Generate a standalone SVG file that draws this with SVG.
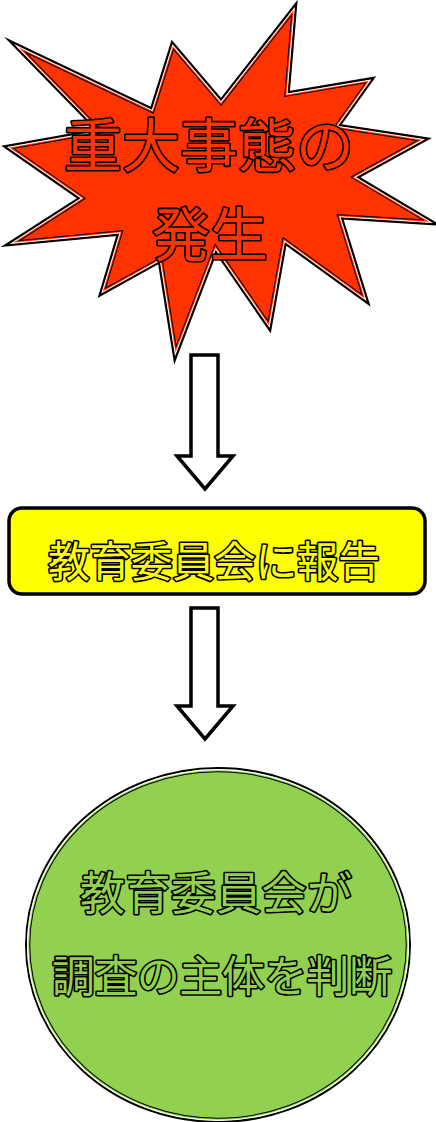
<svg xmlns="http://www.w3.org/2000/svg" width="436" height="1122" viewBox="0 0 436 1122">
<style>
.t{font-family:"Noto Sans CJK JP","Noto Sans CJK SC",sans-serif;stroke:#000;stroke-width:3.2;stroke-linejoin:round;paint-order:stroke fill}
.arrow{fill:#fff;stroke:#000;stroke-width:3.5;stroke-linejoin:miter}
</style>
<defs>
<polygon id="starP" points="221,101.3 294.8,7 287.5,93.5 371.2,79.4 338,125.9 425,139.2 355.9,177.2 433,223 340.6,217.3 366.5,301 284.8,241.9 269.5,327.7 215.7,249.7 175.1,356 159.9,260.9 101.4,293.3 119.3,233.5 9.7,244 80.8,198.3 7,147 98.7,130.8 14.3,44.3 151.9,109.7 172.5,44.3"/>
<clipPath id="starClip"><use href="#starP"/></clipPath>
<ellipse id="ellP" cx="218" cy="945" rx="191" ry="176"/>
<clipPath id="ellClip"><use href="#ellP"/></clipPath>
</defs>
<g id="explosion">
<use href="#starP" fill="#FF3300" stroke="#000" stroke-width="4.5" stroke-linejoin="miter" stroke-miterlimit="20"/>
<g clip-path="url(#starClip)" fill="none" stroke-linejoin="miter" stroke-miterlimit="20">
<use href="#starP" stroke="#000" stroke-width="6"/>
<use href="#starP" stroke="#FF3300" stroke-width="4"/>
<use href="#starP" stroke="#fff" stroke-width="2"/>
</g>
<text class="t" x="209" y="167" font-size="58" text-anchor="middle" fill="#FF3300">重大事態の</text>
<text class="t" x="210" y="256" font-size="58" text-anchor="middle" fill="#FF3300">発生</text>
</g>
<g id="connectors">
<polygon class="arrow" points="191,355 218,355 218,456 233,456 205,489 177,456 191,456"/>
<polygon class="arrow" points="191,608 218,608 218,706 233,706 205,739 177,706 191,706"/>
</g>
<g id="report">
<rect x="9" y="508" width="416" height="86" rx="13" ry="13" fill="#FFFF00" stroke="#000" stroke-width="3.5"/>
<text class="t" x="214" y="577" font-size="42" text-anchor="middle" fill="#FFFF00" textLength="332" lengthAdjust="spacing">教育委員会に報告</text>
</g>
<g id="decision">
<use href="#ellP" fill="#92D050" stroke="#000" stroke-width="4"/>
<g clip-path="url(#ellClip)" fill="none">
<use href="#ellP" stroke="#000" stroke-width="6.5"/>
<use href="#ellP" stroke="#92D050" stroke-width="4.5"/>
<use href="#ellP" stroke="#fff" stroke-width="2.5"/>
</g>
<text class="t" x="216" y="910" font-size="45" text-anchor="middle" fill="#92D050" textLength="272" lengthAdjust="spacing">教育委員会が</text>
<text class="t" x="222" y="992" font-size="43" text-anchor="middle" fill="#92D050" textLength="340" lengthAdjust="spacing">調査の主体を判断</text>
</g>
</svg>
